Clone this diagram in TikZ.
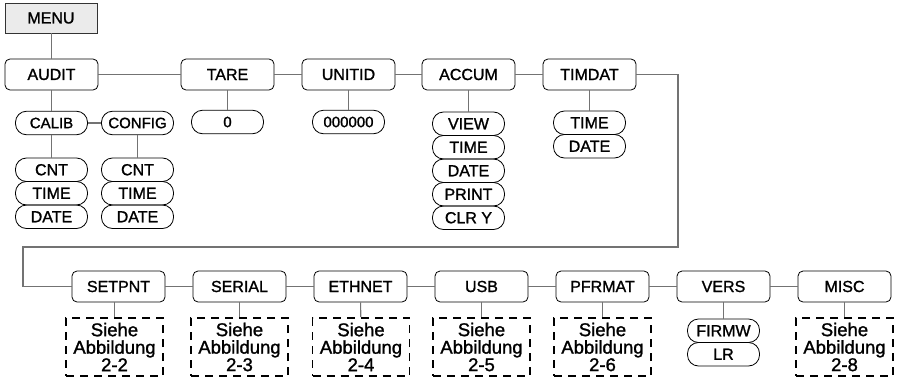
\documentclass[tikz,border=0pt]{standalone}
\usepackage{fontspec}
\setmainfont{Liberation Sans}[FakeBold=1.3]
\begin{document}
\begin{tikzpicture}[x=1pt,y=-1pt,
  mainbox/.style={draw=black,line width=0.8pt,rounded corners=5pt,minimum width=93pt,minimum height=31pt,inner sep=0pt,font=\fontsize{16}{18}\selectfont},
  menubox/.style={draw=black!80,line width=0.8pt,fill=black!8,minimum width=92pt,minimum height=30pt,inner sep=0pt,font=\fontsize{16}{18}\selectfont},
  pill/.style={draw=black,line width=0.8pt,rounded corners=11pt,minimum width=72pt,minimum height=23.5pt,inner sep=0pt,font=\fontsize{16}{17}\selectfont},
  spill/.style={pill,font=\fontsize{15}{16}\selectfont},
  refbox/.style={draw=black,line width=1.8pt,dash pattern=on 8pt off 6pt,minimum width=97pt,minimum height=58pt,inner sep=0pt,align=center,font=\fontsize{18.5}{17.5}\selectfont},
  conn/.style={draw=black!55,line width=1.1pt}]
\useasboundingbox (0,0) rectangle (899,380);
% top row
\node[menubox] (menu) at (51,18) {MENU};
\node[mainbox] (audit) at (51.5,74.5) {AUDIT};
\node[mainbox] (tare) at (227.5,74.5) {TARE};
\node[mainbox] (unitid) at (348.5,74.5) {UNITID};
\node[mainbox] (accum) at (468.5,74.5) {ACCUM};
\node[mainbox] (timdat) at (589.5,74.5) {TIMDAT};
% audit children
\node[spill] (calib) at (51.5,123) {CALIB};
\node[spill] (config) at (137.5,123) {CONFIG};
\node[pill] (cnta) at (51.5,169.75) {CNT};
\node[pill] (timea) at (51.5,193.25) {TIME};
\node[pill] (datea) at (51.5,216.75) {DATE};
\node[pill] (cntb) at (137.5,169.75) {CNT};
\node[pill] (timeb) at (137.5,193.25) {TIME};
\node[pill] (dateb) at (137.5,216.75) {DATE};
\node[spill] (zero) at (227.5,122) {0};
\node[spill] (idval) at (348.5,122) {000000};
\node[pill] (view) at (468.5,123.75) {VIEW};
\node[pill] (timec) at (468.5,147.25) {TIME};
\node[pill] (datec) at (468.5,170.75) {DATE};
\node[pill] (print) at (468.5,194.25) {PRINT};
\node[pill] (clry) at (468.5,217.75) {CLR Y};
\node[pill] (timed) at (589.5,122.75) {TIME};
\node[pill] (dated) at (589.5,146.25) {DATE};
% bottom row
\node[mainbox] (setpnt) at (118.5,286.5) {SETPNT};
\node[mainbox] (serial) at (239.5,286.5) {SERIAL};
\node[mainbox] (ethnet) at (360.5,286.5) {ETHNET};
\node[mainbox] (usb) at (481.5,286.5) {USB};
\node[mainbox] (pfrmat) at (602.5,286.5) {PFRMAT};
\node[mainbox] (vers) at (723.5,286.5) {VERS};
\node[mainbox] (misc) at (844.5,286.5) {MISC};
\node[refbox] (ra) at (114.5,347) {Siehe\\Abbildung\\2-2};
\node[refbox] (rb) at (239.5,347) {Siehe\\Abbildung\\2-3};
\node[refbox] (rc) at (361,347) {Siehe\\Abbildung\\2-4};
\node[refbox] (rd) at (481.5,347) {Siehe\\Abbildung\\2-5};
\node[refbox] (re) at (602.5,347) {Siehe\\Abbildung\\2-6};
\node[pill] (firmw) at (723.5,330.75) {FIRMW};
\node[pill] (lr) at (723.5,354.25) {LR};
\node[refbox] (rf) at (844.5,347) {Siehe\\Abbildung\\2-8};
% coordinates for the long return path
\coordinate (c1) at (678,74.5);
\coordinate (c2) at (678,247);
\coordinate (c3) at (23,247);
\coordinate (c4) at (23,286.5);
% connectors
\draw[conn] (menu.south -| audit.north) -- (audit.north);
\draw[conn] (audit) -- (tare);
\draw[conn] (tare) -- (unitid);
\draw[conn] (unitid) -- (accum);
\draw[conn] (accum) -- (timdat);
\draw[conn] (timdat.east) -- (c1) -- (c2) -- (c3) -- (c4) -- (setpnt.west);
\draw[conn] (setpnt) -- (serial);
\draw[conn] (serial) -- (ethnet);
\draw[conn] (ethnet) -- (usb);
\draw[conn] (usb) -- (pfrmat);
\draw[conn] (pfrmat) -- (vers);
\draw[conn] (vers) -- (misc);
\draw[conn] (audit) -- (calib);
\draw[conn] (calib) -- (config);
\draw[conn] (calib) -- (cnta);
\draw[conn] (config) -- (cntb);
\draw[conn] (tare) -- (zero);
\draw[conn] (unitid) -- (idval);
\draw[conn] (accum) -- (view);
\draw[conn] (timdat) -- (timed);
\draw[conn] (setpnt.south -| ra.north) -- (ra.north);
\draw[conn] (serial) -- (rb);
\draw[conn] (ethnet) -- (rc);
\draw[conn] (usb) -- (rd);
\draw[conn] (pfrmat) -- (re);
\draw[conn] (vers) -- (firmw);
\draw[conn] (misc) -- (rf);
\end{tikzpicture}
\end{document}
